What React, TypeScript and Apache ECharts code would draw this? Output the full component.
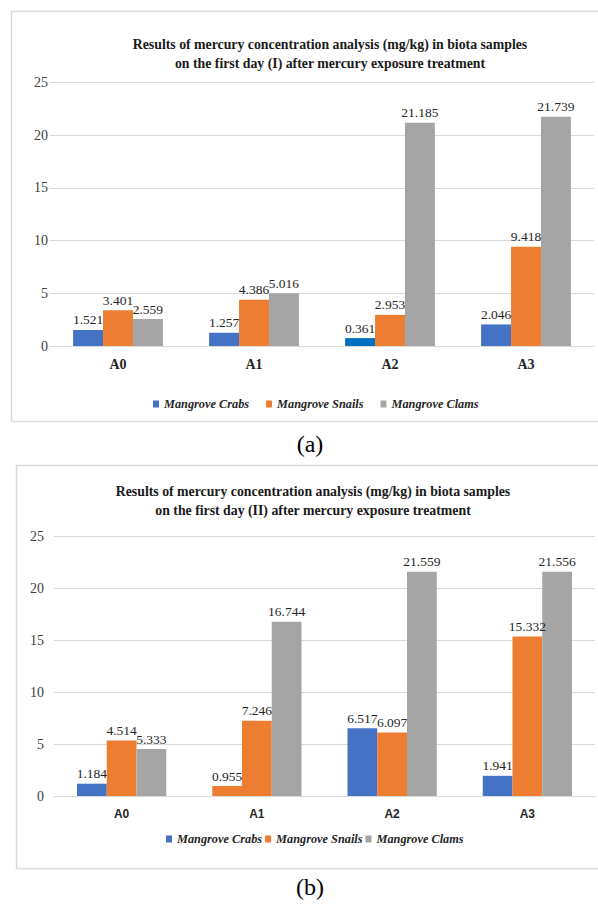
import React, { useEffect, useRef } from "react";
import * as echarts from "echarts";

const categories = ["A0", "A1", "A2", "A3"];
const seriesNames = ["Mangrove Crabs", "Mangrove Snails", "Mangrove Clams"];
const yTicks = { min: 0, max: 25, interval: 5 };

// Chart (a): bar heights as drawn, and the printed value labels
const crabsA = [1.521, 1.257, 0.75, 2.046];
const crabsALabels = ["1.521", "1.257", "0.361", "2.046"];
const snailsA = [3.401, 4.386, 2.953, 9.418];
const snailsALabels = ["3.401", "4.386", "2.953", "9.418"];
const clamsA = [2.559, 5.016, 21.185, 21.739];
const clamsALabels = ["2.559", "5.016", "21.185", "21.739"];

// Chart (b)
const crabsB = [1.184, 0.955, 6.517, 1.941];
const crabsBLabels = ["1.184", "0.955", "6.517", "1.941"];
const snailsB = [5.333, 7.246, 6.097, 15.332];
const snailsBLabels = ["4.514", "7.246", "6.097", "15.332"];
const clamsB = [4.514, 16.744, 21.559, 21.556];
const clamsBLabels = ["5.333", "16.744", "21.559", "21.556"];

const titleA = "Results of mercury concentration analysis (mg/kg) in biota samples\non the first day (I) after mercury exposure treatment";
const titleB = "Results of mercury concentration analysis (mg/kg) in biota samples\non the first day (II) after mercury exposure treatment";

const BLUE = "#4472C4";
const BLUE2 = "#0070C0";
const ORANGE = "#ED7D31";
const GRAY = "#A5A5A5";
const SERIF = "Liberation Serif";
const SANS = "Liberation Sans";

function mkSeries(
  name: string,
  values: number[],
  labels: string[],
  color: string,
  axis: number,
  overrides: Record<number, string> = {}
) {
  return {
    type: "bar",
    name,
    xAxisIndex: axis,
    yAxisIndex: axis,
    barGap: "0%",
    barCategoryGap: "34%",
    itemStyle: { color },
    data: values.map((v, i) =>
      overrides[i] ? { value: v, itemStyle: { color: overrides[i] } } : v
    ),
    label: {
      show: true,
      position: "top",
      distance: 3,
      fontFamily: SERIF,
      fontSize: 13.5,
      color: "#262626",
      formatter: (p: any) => labels[p.dataIndex],
    },
  };
}

export default function App() {
  const ref = useRef<HTMLDivElement>(null);
  useEffect(() => {
    if (!ref.current) return;
    const chart = echarts.init(ref.current, null, { renderer: "svg" });
    const yAxisCommon = {
      type: "value",
      ...yTicks,
      axisLine: { show: false },
      axisTick: { show: false },
      splitLine: { lineStyle: { color: "#d9d9d9", width: 1 } },
      axisLabel: { fontFamily: SERIF, fontSize: 14, color: "#404040" },
    };
    const titleStyle = {
      fontFamily: SERIF,
      fontWeight: "bold",
      fontSize: 13.8,
      lineHeight: 19,
      color: "#1a1a1a",
    };
    const legendText = {
      fontFamily: SERIF,
      fontStyle: "italic",
      fontWeight: "bold",
      fontSize: 12.3,
      color: "#262626",
    };
    chart.setOption({
      animation: false,
      backgroundColor: "#ffffff",
      title: [
        { text: titleA, left: 325, top: 30, textAlign: "center", textStyle: titleStyle },
        { text: titleB, left: 308, top: 477, textAlign: "center", textStyle: titleStyle },
      ],
      legend: [
        {
          data: seriesNames,
          left: 148,
          top: 393,
          itemWidth: 6,
          itemHeight: 7,
          itemGap: 17,
          icon: "rect",
          textStyle: legendText,
        },
        {
          data: seriesNames,
          left: 161,
          top: 828,
          itemWidth: 6,
          itemHeight: 7,
          itemGap: 3,
          icon: "rect",
          textStyle: legendText,
        },
      ],
      grid: [
        { left: 50, width: 544, top: 82.5, height: 263.5 },
        { left: 54, width: 541, top: 536, height: 260 },
      ],
      xAxis: [
        {
          type: "category",
          gridIndex: 0,
          data: categories,
          axisTick: { show: false },
          axisLine: { lineStyle: { color: "#d9d9d9" } },
          axisLabel: {
            fontFamily: SERIF,
            fontWeight: "bold",
            fontSize: 14,
            color: "#262626",
            margin: 11,
          },
        },
        {
          type: "category",
          gridIndex: 1,
          data: categories,
          axisTick: { show: false },
          axisLine: { lineStyle: { color: "#d9d9d9" } },
          axisLabel: {
            fontFamily: SANS,
            fontWeight: "bold",
            fontSize: 12,
            color: "#262626",
            margin: 12,
          },
        },
      ],
      yAxis: [
        { ...yAxisCommon, gridIndex: 0, axisLabel: { ...yAxisCommon.axisLabel, margin: 2 } },
        { ...yAxisCommon, gridIndex: 1, axisLabel: { ...yAxisCommon.axisLabel, margin: 10 } },
      ],
      series: [
        mkSeries(seriesNames[0], crabsA, crabsALabels, BLUE, 0, { 2: BLUE2 }),
        mkSeries(seriesNames[1], snailsA, snailsALabels, ORANGE, 0),
        mkSeries(seriesNames[2], clamsA, clamsALabels, GRAY, 0),
        mkSeries(seriesNames[0], crabsB, crabsBLabels, BLUE, 1, { 1: ORANGE }),
        mkSeries(seriesNames[1], snailsB, snailsBLabels, ORANGE, 1),
        mkSeries(seriesNames[2], clamsB, clamsBLabels, GRAY, 1),
      ],
      graphic: [
        {
          type: "rect",
          shape: { x: 11.5, y: 11.5, width: 600, height: 410 },
          style: { fill: "none", stroke: "#d9d9d9", lineWidth: 1.5 },
          silent: true,
          z: -1,
        },
        {
          type: "rect",
          shape: { x: 16.5, y: 465.5, width: 600, height: 403 },
          style: { fill: "none", stroke: "#d9d9d9", lineWidth: 1.5 },
          silent: true,
          z: -1,
        },
        {
          type: "text",
          x: 310,
          y: 444,
          style: {
            text: "(a)",
            fontFamily: SERIF,
            fontSize: 24,
            fill: "#000",
            textAlign: "center",
            textVerticalAlign: "middle",
          },
        },
        {
          type: "text",
          x: 310,
          y: 887,
          style: {
            text: "(b)",
            fontFamily: SERIF,
            fontSize: 24,
            fill: "#000",
            textAlign: "center",
            textVerticalAlign: "middle",
          },
        },
      ],
    });
    return () => chart.dispose();
  }, []);
  return (
    <div
      ref={ref}
      style={{ position: "absolute", left: 0, top: 0, width: 598, height: 908, background: "#fff" }}
    />
  );
}
